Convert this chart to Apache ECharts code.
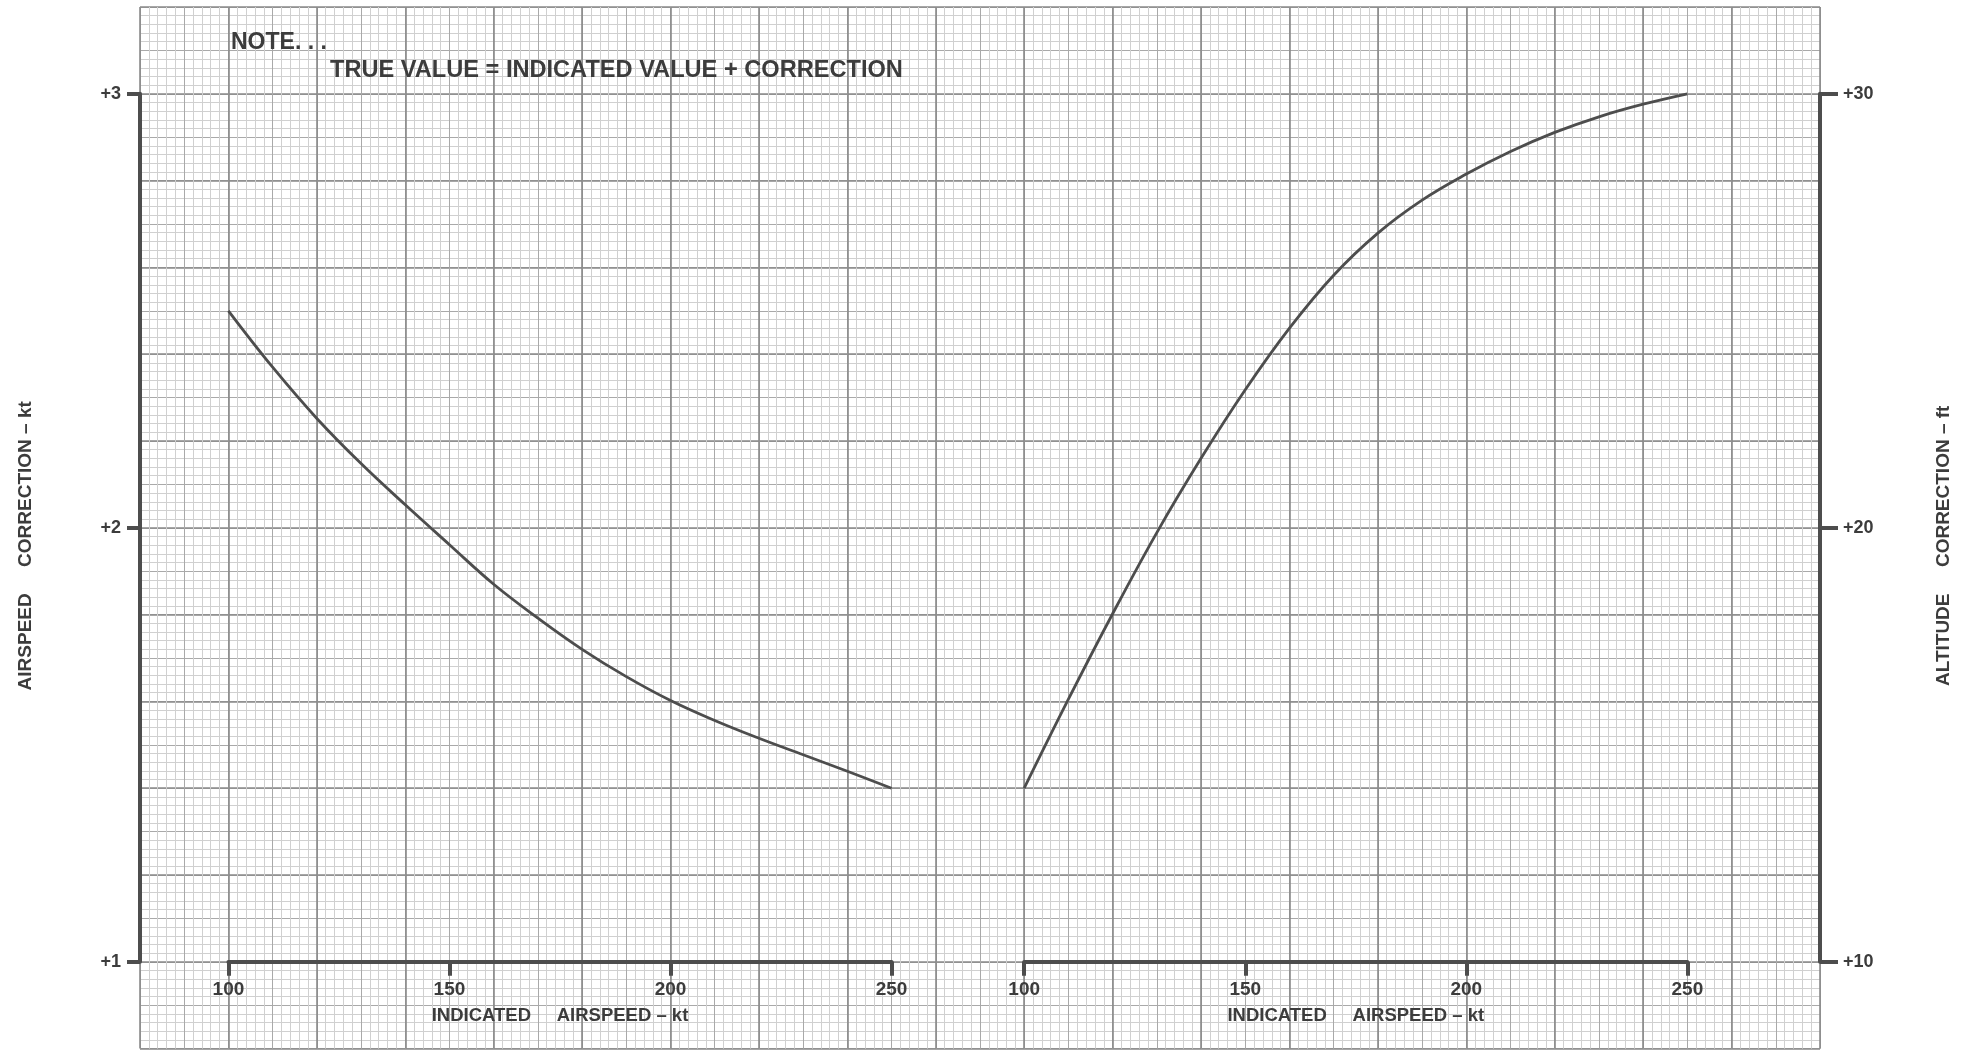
<!DOCTYPE html>
<html>
<head>
<meta charset="utf-8">
<script src="https://cdn.jsdelivr.net/npm/echarts@6/dist/echarts.min.js"></script>
<style>
html,body{margin:0;padding:0;background:#ffffff;}
#chart{width:1972px;height:1052px;}
</style>
</head>
<body>
<div id="chart"></div>
<script>
// ---------------- data ----------------
const indicatedAirspeedKt = [100, 110, 120, 130, 140, 150, 160, 170, 180, 190, 200, 210, 220, 230, 240, 250];
const airspeedCorrectionKt = [2.500, 2.370, 2.252, 2.148, 2.053, 1.961, 1.870, 1.792, 1.720, 1.657, 1.602, 1.556, 1.515, 1.477, 1.439, 1.400];
const altitudeCorrectionFt = [14.0, 16.05, 18.02, 19.89, 21.60, 23.18, 24.60, 25.82, 26.79, 27.55, 28.15, 28.67, 29.11, 29.47, 29.76, 30.0];
const airspeedTicks = [100, 150, 200, 250];
const airspeedCorrTicks = [1, 2, 3];
const altitudeCorrTicks = [10, 20, 30];
const noteHeading = 'NOTE. . .';
const noteText = 'TRUE VALUE = INDICATED VALUE + CORRECTION';
const xTitle = 'INDICATED     AIRSPEED – kt';
const leftYTitle = 'AIRSPEED     CORRECTION – kt';
const rightYTitle = 'ALTITUDE     CORRECTION – ft';

// ---------------- layout ----------------
const FONT = '"Liberation Sans", Arial, Helvetica, sans-serif';
const INK = '#3c3c3c';
const LINE = '#4d4d4d';
const PL = 140, PT = 7, PW = 1680, PH = 1041.6;      // graph paper
const MX = PW / 190, MY = PH / 120;                   // minor square size
const panelTop = PT + 10 * MY, panelH = 100 * MY, panelW = 75 * MX;
const leftPanelL = PL + 10 * MX;
const rightPanelL = PL + 100 * MX;
const leftOffset = leftPanelL - PL;
const rightOffset = (PL + PW) - (rightPanelL + panelW);

function paperAxis(gridIndex, max, interval, major) {
  return {
    type: 'value', gridIndex, min: 0, max, interval,
    axisLine: {show: false}, axisTick: {show: false}, axisLabel: {show: false},
    splitLine: {show: true, lineStyle: {color: major ? '#8a8a8a' : '#a9a9a9', width: major ? 1.6 : 1}},
    minorTick: {show: false, splitNumber: 5},
    minorSplitLine: {show: !major, lineStyle: {color: '#d0d0d0', width: 1}}
  };
}

function dataX(gridIndex) {
  return {
    type: 'value', gridIndex, min: airspeedTicks[0], max: airspeedTicks[airspeedTicks.length - 1],
    interval: airspeedTicks[1] - airspeedTicks[0],
    axisLine: {show: true, lineStyle: {color: LINE, width: 4}},
    axisTick: {show: true, length: 14, lineStyle: {color: LINE, width: 4}},
    axisLabel: {color: INK, fontSize: 19, fontWeight: 'bold', fontFamily: FONT, margin: 18},
    splitLine: {show: false},
    name: xTitle, nameLocation: 'middle', nameGap: 45,
    nameTextStyle: {color: INK, fontSize: 18.5, fontWeight: 'bold', fontFamily: FONT}
  };
}

function dataY(gridIndex, ticks, position, offset, name, gap) {
  return {
    type: 'value', gridIndex, position, offset,
    min: ticks[0], max: ticks[ticks.length - 1], interval: ticks[1] - ticks[0],
    axisLine: {show: true, lineStyle: {color: LINE, width: 4}},
    axisTick: {show: true, length: position === 'left' ? 13 : 18, lineStyle: {color: LINE, width: 4}},
    axisLabel: {color: INK, fontSize: 18, fontWeight: 'bold', fontFamily: FONT,
                margin: position === 'left' ? 19 : 23, formatter: v => '+' + v},
    splitLine: {show: false},
    name, nameLocation: 'middle', nameRotate: 90, nameGap: gap,
    nameTextStyle: {color: INK, fontSize: 19, fontWeight: 'bold', fontFamily: FONT,
                    padding: [0, 36, 0, 0]}
  };
}

const chart = echarts.init(document.getElementById('chart'), null, {renderer: 'canvas'});
chart.setOption({
  backgroundColor: '#ffffff',
  animation: false,
  title: [
    {text: noteHeading, left: 231, top: 31, padding: 0,
     textStyle: {color: INK, fontSize: 23, fontWeight: 'bold', fontFamily: FONT}},
    {text: noteText, left: 330, top: 58, padding: 0,
     textStyle: {color: INK, fontSize: 23.6, fontWeight: 'bold', fontFamily: FONT}}
  ],
  grid: [
    {left: PL, top: PT, width: PW, height: PH},
    {left: PL, top: PT, width: PW, height: PH},
    {left: leftPanelL, top: panelTop, width: panelW, height: panelH},
    {left: rightPanelL, top: panelTop, width: panelW, height: panelH}
  ],
  xAxis: [
    paperAxis(0, 190, 5, false),
    paperAxis(1, 190, 10, true),
    dataX(2),
    dataX(3)
  ],
  yAxis: [
    paperAxis(0, 120, 5, false),
    paperAxis(1, 120, 10, true),
    dataY(2, airspeedCorrTicks, 'left', leftOffset, leftYTitle, 105),
    dataY(3, altitudeCorrTicks, 'right', rightOffset, rightYTitle, 114)
  ],
  series: [
    {
      type: 'line', xAxisIndex: 2, yAxisIndex: 2, smooth: 0.4,
      showSymbol: false, clip: false,
      lineStyle: {color: LINE, width: 2.8},
      data: indicatedAirspeedKt.map((x, i) => [x, airspeedCorrectionKt[i]])
    },
    {
      type: 'line', xAxisIndex: 3, yAxisIndex: 3, smooth: 0.4,
      showSymbol: false, clip: false,
      lineStyle: {color: LINE, width: 2.8},
      data: indicatedAirspeedKt.map((x, i) => [x, altitudeCorrectionFt[i]])
    }
  ]
});
</script>
</body>
</html>
